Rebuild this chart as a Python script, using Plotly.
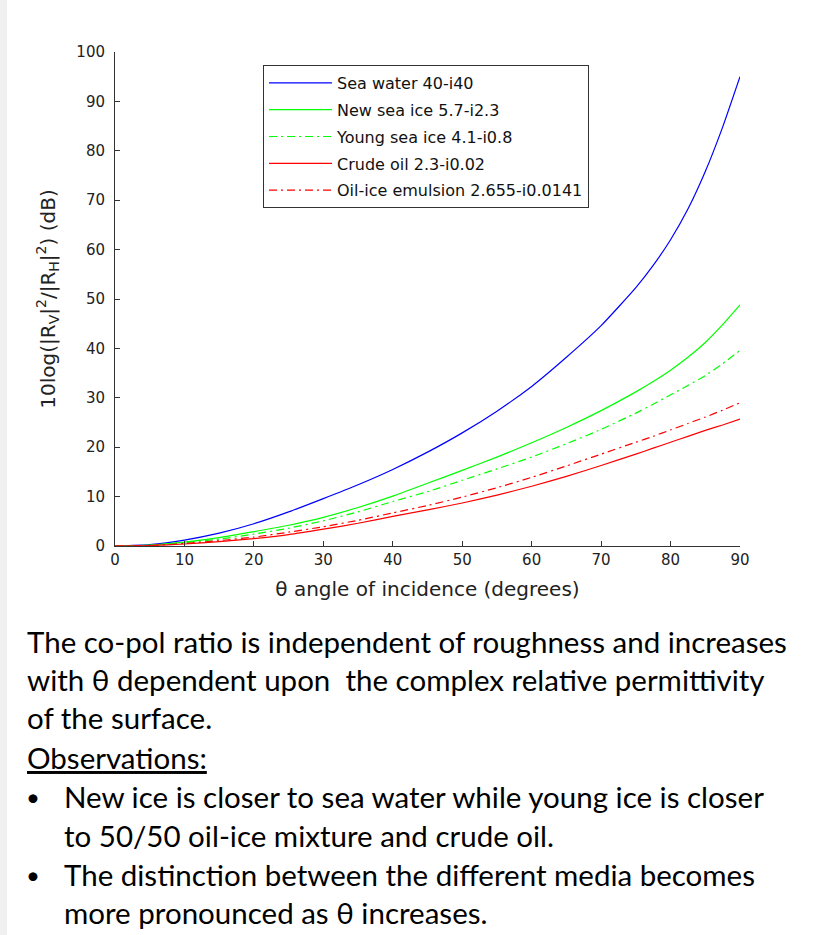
import plotly.graph_objects as go

# ---- data ----
angles = [0, 5, 10, 15, 20, 25, 30, 35, 40, 45, 50, 55, 60, 65, 70, 75, 77.5, 80, 82.5, 85, 87.5, 90]
sea_water = [0, 0.3, 1.2, 2.6, 4.5, 6.9, 9.6, 12.4, 15.5, 19.0, 22.9, 27.3, 32.3, 38.2, 44.6, 52.3, 56.8, 62.0, 68.2, 75.8, 84.8, 95.0]
new_ice = [0, 0.2, 0.8, 1.7, 2.9, 4.2, 5.8, 7.8, 10.1, 12.7, 15.3, 18.0, 20.9, 24.0, 27.4, 31.2, 33.3, 35.6, 38.2, 41.2, 44.8, 48.8]
young_ice = [0, 0.15, 0.7, 1.4, 2.4, 3.6, 5.1, 6.9, 9.0, 11.0, 13.3, 15.6, 18.0, 20.7, 23.6, 26.9, 28.7, 30.6, 32.5, 34.5, 36.9, 39.6]
crude_oil = [0, 0.1, 0.4, 0.9, 1.5, 2.3, 3.4, 4.6, 6.0, 7.3, 8.7, 10.3, 12.1, 14.1, 16.3, 18.6, 19.8, 21.0, 22.2, 23.4, 24.5, 25.7]
oil_ice = [0, 0.1, 0.5, 1.1, 1.8, 2.8, 3.9, 5.2, 6.7, 8.2, 9.9, 11.8, 13.9, 16.2, 18.6, 21.0, 22.2, 23.5, 24.8, 26.1, 27.5, 29.0]

series_names = ["Sea water 40-i40", "New sea ice 5.7-i2.3", "Young sea ice 4.1-i0.8",
                "Crude oil 2.3-i0.02", "Oil-ice emulsion 2.655-i0.0141"]
series_values = [sea_water, new_ice, young_ice, crude_oil, oil_ice]
series_colors = ["#0000FF", "#00FF00", "#00FF00", "#FF0000", "#FF0000"]
series_dash = ["solid", "solid", "8px,4px,2px,4px", "solid", "8px,4px,2px,4px"]

x_ticks = [0, 10, 20, 30, 40, 50, 60, 70, 80, 90]
y_ticks = [0, 10, 20, 30, 40, 50, 60, 70, 80, 90, 100]

body_lines = [
    "The co-pol ratio is independent of roughness and increases",
    "with θ dependent upon  the complex relative permittivity",
    "of the surface.",
]
obs_title = "Observations:"
bullet_lines = [
    ("New ice is closer to sea water while young ice is closer", True),
    ("to 50/50 oil-ice mixture and crude oil.", False),
    ("The distinction between the different media becomes", True),
    ("more pronounced as θ increases.", False),
]

# ---- figure ----
W, H = 813, 935
L, R, T, B = 115, 73, 52, 389
pw, ph = W - L - R, H - T - B


def px(xp):
    return (xp - L) / pw


def py(yp):
    return (H - B - yp) / ph


fig = go.Figure()
for i, (name, vals, col, dash) in enumerate(zip(series_names, series_values, series_colors, series_dash)):
    fig.add_trace(go.Scatter(
        x=angles, y=vals, mode="lines", name=name, legendgroup=f"g{i}",
        line=dict(color=col, width=1.2, dash=dash, shape="spline", smoothing=0.5),
    ))

chart_font = "DejaVu Sans"
fig.update_layout(
    width=W, height=H, autosize=False,
    margin=dict(l=L, r=R, t=T, b=B, pad=0),
    paper_bgcolor="white", plot_bgcolor="white",
    showlegend=True,
    legend=dict(
        x=px(263), y=py(65), xanchor="left", yanchor="top",
        bgcolor="white", bordercolor="#333333", borderwidth=1,
        font=dict(family=chart_font, size=16, color="#111111"),
        tracegroupgap=3, traceorder="grouped", itemwidth=63,
    ),
    xaxis=dict(
        range=[0, 90], tickvals=x_ticks, ticks="inside", ticklen=5, tickwidth=1,
        tickcolor="#333333", showline=True, linecolor="#333333", linewidth=1,
        showgrid=False, zeroline=False, mirror=False,
        tickfont=dict(family=chart_font, size=15, color="#222222"),
        title=dict(text="θ angle of incidence (degrees)", standoff=13,
                   font=dict(family=chart_font, size=20, color="#222222")),
    ),
    yaxis=dict(
        range=[0, 100], tickvals=y_ticks, ticks="inside", ticklen=5, tickwidth=1,
        tickcolor="#333333", showline=True, linecolor="#333333", linewidth=1,
        showgrid=False, zeroline=False, mirror=False, ticklabelstandoff=6,
        tickfont=dict(family=chart_font, size=15, color="#222222"),
        title=dict(text="10log(|R<sub>V</sub>|<sup>2</sup>/|R<sub>H</sub>|<sup>2</sup>) (dB)", standoff=15,
                   font=dict(family=chart_font, size=20, color="#222222")),
    ),
)

# light gray strip on the left edge of the slide
fig.add_shape(type="rect", xref="paper", yref="paper", x0=px(0), x1=px(7), y0=py(0), y1=py(H),
              fillcolor="#f0f0f0", line=dict(width=0), layer="below")

text_font = dict(family="Lato", size=29.5, color="black")
line_centers = [641, 679, 717, 757, 797, 835, 874, 912]

for i, txt in enumerate(body_lines):
    fig.add_annotation(text=txt, xref="paper", yref="paper", x=px(25), y=py(line_centers[i]),
                       xanchor="left", yanchor="middle", showarrow=False, font=text_font)

fig.add_annotation(text=obs_title, xref="paper", yref="paper", x=px(25), y=py(line_centers[3]),
                   xanchor="left", yanchor="middle", showarrow=False,
                   font=dict(family="Lato", size=29.5, color="black", lineposition="under"))

for j, (txt, has_bullet) in enumerate(bullet_lines):
    yc = py(line_centers[4 + j])
    if has_bullet:
        fig.add_annotation(text="•", xref="paper", yref="paper", x=px(33), y=yc,
                           xanchor="center", yanchor="middle", showarrow=False,
                           font=dict(family="Lato", size=24, color="black"))
    fig.add_annotation(text=txt, xref="paper", yref="paper", x=px(62), y=yc,
                       xanchor="left", yanchor="middle", showarrow=False, font=text_font)

fig.write_html("out.html")
